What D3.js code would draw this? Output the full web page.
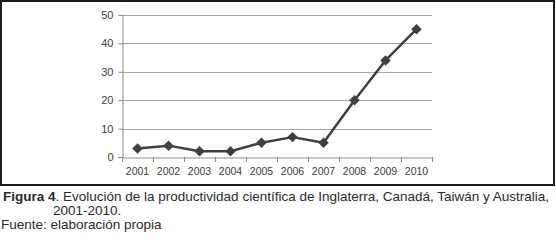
<!DOCTYPE html>
<html>
<head>
<meta charset="utf-8">
<script src="https://cdn.jsdelivr.net/npm/d3@7"></script>
<style>
  body { margin: 0; background: #fff; }
  svg { display: block; }
</style>
</head>
<body>
<svg id="drawing_region"></svg>
<script>
// data
const years = ["2001", "2002", "2003", "2004", "2005", "2006", "2007", "2008", "2009", "2010"];
const values = [3, 4, 2, 2, 5, 7, 5, 20, 34, 45];
const yTicks = [0, 10, 20, 30, 40, 50];

const captionLines = [
    {bold: "Figura 4", rest: ". Evolución de la productividad científica de Inglaterra, Canadá, Taiwán y Australia,"},
    {bold: "", rest: "2001-2010."},
    {bold: "", rest: "Fuente: elaboración propia"}
];

const width = 556, height = 241;
const plot = {left: 122, right: 432, top: 15, bottom: 157};

const svg = d3.select('#drawing_region')
    .attr('width', width)
    .attr('height', height);

// frame around the chart
svg.append('rect')
    .attr('x', 1).attr('y', 1)
    .attr('width', 553).attr('height', 184)
    .attr('fill', 'none')
    .attr('stroke', '#1a1a1a')
    .attr('stroke-width', 2);

const x = d3.scaleBand()
    .domain(years)
    .range([plot.left, plot.right]);

const y = d3.scaleLinear()
    .domain([0, 50])
    .range([plot.bottom, plot.top]);

// gridlines
svg.append('g')
    .selectAll('line')
    .data(yTicks.filter(d => d > 0))
    .enter()
    .append('line')
    .attr('x1', plot.left).attr('x2', plot.right)
    .attr('y1', d => Math.round(y(d)) + 0.5)
    .attr('y2', d => Math.round(y(d)) + 0.5)
    .attr('stroke', '#a6a6a6')
    .attr('stroke-width', 1);

// y axis
const yAxis = svg.append('g')
    .attr('transform', `translate(${plot.left + 0.5},0)`)
    .call(d3.axisLeft(y).tickValues(yTicks).tickSize(4).tickPadding(5));
yAxis.select('.domain').attr('stroke', '#8c8c8c');
yAxis.selectAll('.tick line').attr('stroke', '#8c8c8c');
yAxis.selectAll('text')
    .attr('font-family', 'Liberation Sans, Arial, sans-serif')
    .attr('font-size', 11)
    .attr('fill', '#404040');

// x axis
const xAxis = svg.append('g')
    .attr('transform', `translate(0,${plot.bottom + 0.5})`)
    .call(d3.axisBottom(x).tickSize(0).tickPadding(10));
xAxis.select('.domain').attr('stroke', '#8c8c8c');
xAxis.selectAll('text')
    .attr('font-family', 'Liberation Sans, Arial, sans-serif')
    .attr('font-size', 10.5)
    .attr('fill', '#404040');

// tick marks at category boundaries
const bounds = years.map(d => x(d)).concat([x.range()[1]]);
svg.append('g')
    .selectAll('line')
    .data(bounds)
    .enter()
    .append('line')
    .attr('x1', d => Math.round(d) + 0.5).attr('x2', d => Math.round(d) + 0.5)
    .attr('y1', plot.bottom).attr('y2', plot.bottom + 5)
    .attr('stroke', '#8c8c8c');

// series line
const line = d3.line()
    .x((d, i) => x(years[i]) + x.bandwidth() / 2)
    .y(d => y(d));

svg.append('path')
    .datum(values)
    .attr('d', line)
    .attr('fill', 'none')
    .attr('stroke', '#404040')
    .attr('stroke-width', 2.5)
    .attr('stroke-linejoin', 'round');

// diamond markers
svg.append('g')
    .selectAll('path')
    .data(values)
    .enter()
    .append('path')
    .attr('d', d3.symbol().type(d3.symbolDiamond2).size(70))
    .attr('transform', (d, i) => `translate(${x(years[i]) + x.bandwidth() / 2},${y(d)})`)
    .attr('fill', '#404040');

// caption
const cap = svg.append('g')
    .attr('font-family', 'Liberation Sans, Arial, sans-serif')
    .attr('font-size', 13.5)
    .attr('fill', '#2a2a2a');

const capX = [3, 53, 1];
const capY = [201, 215, 229];
captionLines.forEach((c, i) => {
    const t = cap.append('text')
        .attr('x', capX[i])
        .attr('y', capY[i]);
    if (c.bold) t.append('tspan').attr('font-weight', 'bold').text(c.bold);
    t.append('tspan').text(c.rest);
});
</script>
</body>
</html>
